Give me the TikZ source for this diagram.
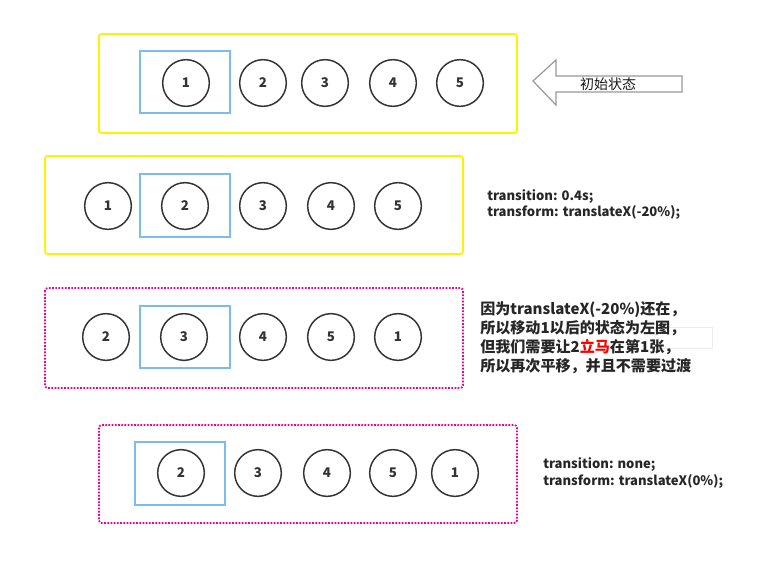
\documentclass[tikz,border=0pt]{standalone}
\usepackage{fontspec}
\setmainfont{Noto Sans CJK SC}
\begin{document}
\begin{tikzpicture}[x=0.75pt,y=-0.75pt,
  ball/.style={circle,draw=black!80,line width=1.1pt,minimum size=35pt,inner sep=0pt,
    font=\bfseries\fontsize{10}{11}\selectfont,text=black!80},
  ybox/.style={draw=yellow,line width=1.4pt,rounded corners=2pt},
  mbox/.style={draw=magenta,line width=1.3pt,dash pattern=on 1.3pt off 1.1pt,rounded corners=2pt},
  note/.style={anchor=west,align=left,inner sep=0pt,text=black!85}
]
\useasboundingbox (0,0) rectangle (771,561);
\definecolor{bluesel}{HTML}{7ABCF0}
% row 1
\draw[ybox] (99,34) rectangle (517,133);
\draw[bluesel,line width=1.2pt] (140,51) rectangle (230,113);
\node[ball] (r1a) at (186,83) {1};
\node[ball] (r1b) at (263,83) {2};
\node[ball] (r1c) at (325,83) {3};
\node[ball] (r1d) at (393,83) {4};
\node[ball] (r1e) at (460,83) {5};
% arrow
\draw[black!40,line width=0.9pt,fill=white] (533,81) -- (556,60) -- (556,76) -- (682,76) -- (682,92) -- (556,92) -- (556,105) -- cycle;
\node[inner sep=0pt,font=\fontsize{10.5}{12}\selectfont,text=black!90] (init) at (608,84) {初始状态};
% row 2
\draw[ybox] (45,156) rectangle (463,254);
\draw[bluesel,line width=1.2pt] (140,174) rectangle (230,237);
\node[ball] (r2a) at (108,206) {1};
\node[ball] (r2b) at (185,206) {2};
\node[ball] (r2c) at (263,206) {3};
\node[ball] (r2d) at (331,206) {4};
\node[ball] (r2e) at (398,206) {5};
\node[note,font=\bfseries\fontsize{9.8}{12}\selectfont] (t2) at (487,205) {transition: 0.4s;\\transform: translateX(-20\%);};
% row 3
\draw[mbox] (45,288) rectangle (463,388);
\draw[bluesel,line width=1.2pt] (140,306) rectangle (230,368);
\node[ball] (r3a) at (106,337) {2};
\node[ball] (r3b) at (184,337) {3};
\node[ball] (r3c) at (263,337) {4};
\node[ball] (r3d) at (331,337) {5};
\node[ball] (r3e) at (398,337) {1};
\draw[black!7,line width=0.6pt] (655,327) rectangle (712,348);
\node[note,font=\bfseries\fontsize{11.3}{14.25}\selectfont] (t3) at (480,338) {因为translateX(-20\%)还在，\\所以移动1以后的状态为左图，\\但我们需要让2\textcolor{red}{立马}在第1张，\\所以再次平移，并且不需要过渡};
% row 4
\draw[mbox] (99,425) rectangle (517,523);
\draw[bluesel,line width=1.2pt] (135,442) rectangle (225,505);
\node[ball] (r4a) at (181,473) {2};
\node[ball] (r4b) at (258,473) {3};
\node[ball] (r4c) at (327,473) {4};
\node[ball] (r4d) at (393,473) {5};
\node[ball] (r4e) at (455,473) {1};
\node[note,font=\bfseries\fontsize{9.8}{12.75}\selectfont] (t4) at (543,473.5) {transition: none;\\transform: translateX(0\%);};
\end{tikzpicture}
\end{document}
